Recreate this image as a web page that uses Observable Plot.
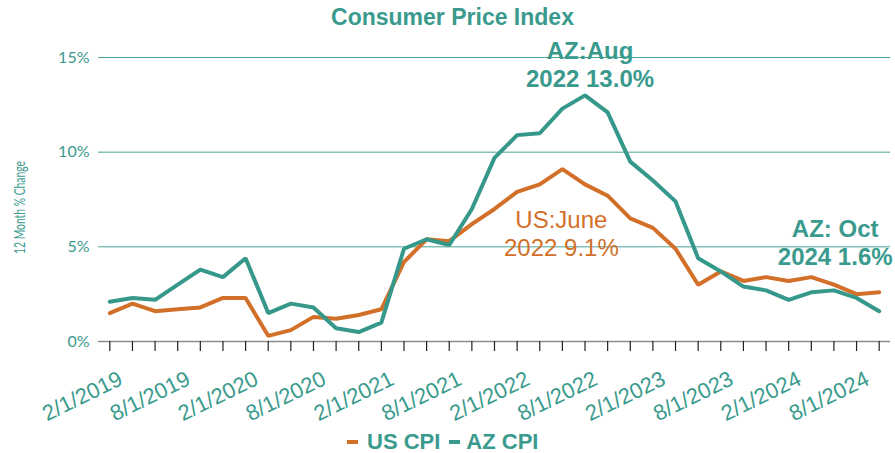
<!DOCTYPE html>
<html>
<head>
<meta charset="utf-8">
<script src="https://cdn.jsdelivr.net/npm/d3@7"></script>
<script src="https://cdn.jsdelivr.net/npm/@observablehq/plot@0.6"></script>
<style>
  html, body { margin: 0; padding: 0; background: #fff; }
  #wrap { position: relative; width: 895px; height: 453px; overflow: hidden; }
  #chart { position: absolute; left: 0; top: 0; }
  #title { position: absolute; left: 0; width: 905px; top: 4px; text-align: center;
    font: bold 23px "Liberation Sans", Arial, sans-serif; color: #3a9a8d; }
  #legend { position: absolute; left: 347px; top: 431px; height: 22px; line-height: 22px; white-space: nowrap;
    font: bold 22px/22px "Liberation Sans", Arial, sans-serif; color: #3a9a8d; }
  #legend .sw { display: inline-block; width: 11px; height: 4px; vertical-align: middle; position: relative; top: -1px; }
</style>
</head>
<body>
<div id="wrap">
  <div id="chart"></div>
  <div id="title">Consumer Price Index</div>
  <div id="legend"><span class="sw" style="background:#d2702a;margin-right:9px"></span><span style="margin-right:9px">US CPI</span><span class="sw" style="background:#3a9a8d;margin-right:6px"></span><span>AZ CPI</span></div>
</div>
<script>
const dates = [
  "2/1/2019","4/1/2019","6/1/2019","8/1/2019","10/1/2019","12/1/2019",
  "2/1/2020","4/1/2020","6/1/2020","8/1/2020","10/1/2020","12/1/2020",
  "2/1/2021","4/1/2021","6/1/2021","8/1/2021","10/1/2021","12/1/2021",
  "2/1/2022","4/1/2022","6/1/2022","8/1/2022","10/1/2022","12/1/2022",
  "2/1/2023","4/1/2023","6/1/2023","8/1/2023","10/1/2023","12/1/2023",
  "2/1/2024","4/1/2024","6/1/2024","8/1/2024","10/1/2024"
];
const usCPI = [
  1.5, 2.0, 1.6, 1.7, 1.8, 2.3,
  2.3, 0.3, 0.6, 1.3, 1.2, 1.4,
  1.7, 4.2, 5.4, 5.3, 6.2, 7.0,
  7.9, 8.3, 9.1, 8.3, 7.7, 6.5,
  6.0, 4.9, 3.0, 3.7, 3.2, 3.4,
  3.2, 3.4, 3.0, 2.5, 2.6
];
const azCPI = [
  2.1, 2.3, 2.2, 3.0, 3.8, 3.4,
  4.4, 1.5, 2.0, 1.8, 0.7, 0.5,
  1.0, 4.9, 5.4, 5.1, 7.0, 9.7,
  10.9, 11.0, 12.3, 13.0, 12.1, 9.5,
  8.5, 7.4, 4.4, 3.7, 2.9, 2.7,
  2.2, 2.6, 2.7, 2.3, 1.6
];
const yTicks = [0, 5, 10, 15];
const tickLabels = ["2/1/2019","8/1/2019","2/1/2020","8/1/2020","2/1/2021","8/1/2021",
  "2/1/2022","8/1/2022","2/1/2023","8/1/2023","2/1/2024","8/1/2024"];
const annotations = [
  {date: "8/1/2022", value: 13.0, text: "AZ:Aug\n2022 13.0%", series: "AZ"},
  {date: "6/1/2022", value: 9.1, text: "US:June\n2022 9.1%", series: "US"},
  {date: "10/1/2024", value: 1.6, text: "AZ: Oct\n2024 1.6%", series: "AZ"}
];

const TEAL = "#3a9a8d";
const LINE_TEAL = "#35988a";
const ORANGE = "#d2702a";

const us = dates.map((d, i) => ({date: d, value: usCPI[i]}));
const az = dates.map((d, i) => ({date: d, value: azCPI[i]}));

const chart = Plot.plot({
  width: 895,
  height: 453,
  marginTop: 57,
  marginBottom: 112,
  marginLeft: 98,
  marginRight: 5,
  style: {fontFamily: "'Liberation Sans', Arial, sans-serif", background: "white"},
  x: {type: "point", domain: dates, padding: 0.5, round: false, axis: null},
  y: {domain: [0, 15], axis: null},
  marks: [
    Plot.ruleY(yTicks.filter(t => t > 0), {stroke: "#4aa396", strokeWidth: 1}),
    Plot.ruleY([0], {stroke: "#8c8c8c", strokeWidth: 1.5}),
    Plot.axisX({ticks: dates, tickSize: 10, tickFormat: () => "", stroke: "#222", strokeWidth: 1.2, label: null}),
    Plot.text(tickLabels, {x: d => d, frameAnchor: "bottom", rotate: -26, textAnchor: "end", lineAnchor: "middle",
      dx: 11, dy: 36, fontSize: 22, fill: TEAL}),
    Plot.axisY({ticks: yTicks, tickSize: 0, tickPadding: 9, tickFormat: d => d + "%", fontSize: 16,
      fill: TEAL, label: null, fontFamily: "Lato, 'Open Sans', sans-serif"}),
    Plot.text(["12 Month % Change"], {frameAnchor: "left", rotate: -90, textAnchor: "middle", dx: -78, dy: 8, fontSize: 15.5,
      fill: TEAL, fontFamily: "Lato, 'Open Sans', sans-serif", className: "ytitle"}),
    Plot.line(us, {x: "date", y: "value", stroke: ORANGE, strokeWidth: 4, strokeLinejoin: "miter"}),
    Plot.line(az, {x: "date", y: "value", stroke: LINE_TEAL, strokeWidth: 4, strokeLinejoin: "miter"}),
    Plot.text(annotations.filter(a => a.series === "AZ" && a.date === "8/1/2022"), {x: "date", y: "value", text: "text",
      dx: 5, dy: -31, lineHeight: 1.13, fontSize: 24, fontWeight: "bold", fill: TEAL}),
    Plot.text(annotations.filter(a => a.series === "US"), {x: "date", y: "value", text: "text",
      dx: -1, dy: 64, lineHeight: 1.17, fontSize: 24, fill: ORANGE}),
    Plot.text(annotations.filter(a => a.series === "AZ" && a.date === "10/1/2024"), {x: "date", y: "value", text: "text",
      dx: -44, dy: -69, lineHeight: 1.17, fontSize: 24, fontWeight: "bold", fill: TEAL})
  ]
});
// condense the y-axis title to the narrow width it has in the reference
d3.select(chart).selectAll("g.ytitle text")
  .attr("textLength", 93)
  .attr("lengthAdjust", "spacingAndGlyphs");
document.getElementById("chart").appendChild(chart);
</script>
</body>
</html>
